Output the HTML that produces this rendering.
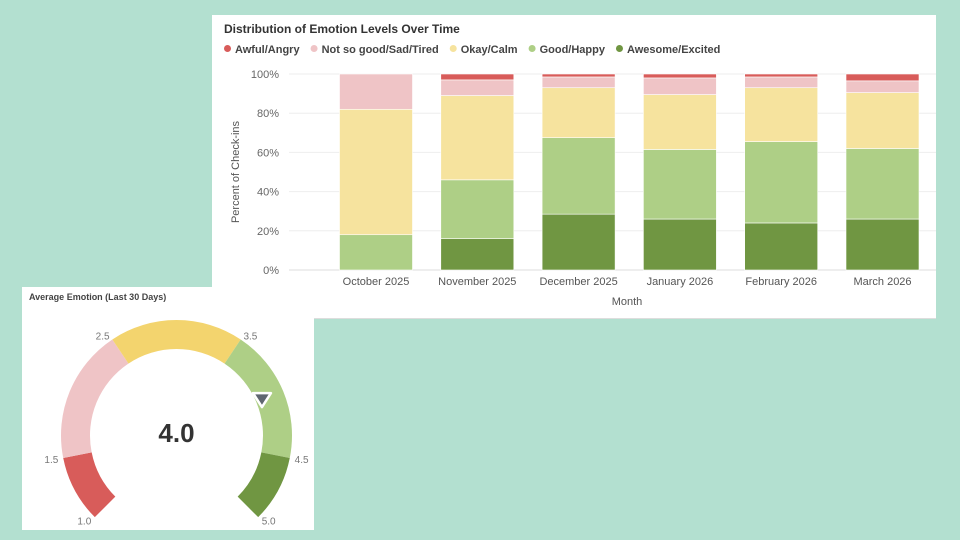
<!DOCTYPE html>
<html><head><meta charset="utf-8"><style>
body{margin:0;width:960px;height:540px;background:#b3e0d0;position:relative;overflow:hidden;font-family:"Liberation Sans",sans-serif}
.card{position:absolute;background:#fff}
</style></head><body>
<div class="card" style="left:212px;top:15px;width:724px;height:303px;border-bottom:1px solid #ddd">
<svg id="bar" width="724" height="303"></svg>
</div>
<div class="card" style="left:22px;top:287px;width:292px;height:243px">
<svg id="gauge" width="292" height="243"></svg>
</div>
<script>
const months=["October 2025","November 2025","December 2025","January 2026","February 2026","March 2026"];
const seriesNames=["Awesome/Excited","Good/Happy","Okay/Calm","Not so good/Sad/Tired","Awful/Angry"];
const awesome=[0,16,28.5,26,24,26];
const good=[18,30,39,35.5,41.5,36];
const okay=[64,43,25.5,28,27.5,28.5];
const notSoGood=[18,8,5.5,8.5,5.5,6];
const awful=[0,3,1.5,2,1.5,3.5];
const yTicks=[0,20,40,60,80,100];
const legendOrder=["Awful/Angry","Not so good/Sad/Tired","Okay/Calm","Good/Happy","Awesome/Excited"];
const gaugeValue=4.0;
const gaugeMin=1,gaugeMax=5;
const gaugeBands=[1,1.5,2.5,3.5,4.5,5];
const gaugeLabels=["1.0","1.5","2.5","3.5","4.5","5.0"];

const NS="http://www.w3.org/2000/svg";
function mk(p,t,a,txt){const e=document.createElementNS(NS,t);for(const k in a)e.setAttribute(k,a[k]);if(txt!=null)e.textContent=txt;p.appendChild(e);return e;}
const colors={"Awful/Angry":"#d85c5a","Not so good/Sad/Tired":"#efc4c6","Okay/Calm":"#f6e39e","Good/Happy":"#aecf86","Awesome/Excited":"#709642"};
const svg=document.getElementById('bar');
let t=mk(svg,'text',{x:12,y:18,'font-size':12,'font-weight':'bold',fill:'#333'},"Distribution of Emotion Levels Over Time");


let lx=12;
legendOrder.forEach(n=>{
  const g=mk(svg,'g',{});
  
  
  mk(g,'circle',{cx:lx+3.5,cy:33.5,r:3.5,fill:colors[n]});
  const tx=mk(g,'text',{x:lx+11,y:38,'font-size':11,'font-weight':'bold',fill:'#444'},n);
  lx+=11+tx.getComputedTextLength()+11;
});
const y0=255,y1=59,xL=77,xR=724;
const ys=v=>y0-(v/100)*(y0-y1);
const xc=i=>164+i*101.3;
const bw=73;
yTicks.forEach(v=>{
  const l=mk(svg,'line',{x1:xL,x2:xR,y1:ys(v),y2:ys(v),stroke:v==0?'#ddd':'#eee'});
  
  
  const tt=mk(svg,'text',{x:67,y:ys(v)+4,'font-size':11,fill:'#666','text-anchor':'end'},v+"%");
  
  
});
const data=[awesome,good,okay,notSoGood,awful];
months.forEach((m,i)=>{
  let acc=0;
  data.forEach((arr,s)=>{
    const v=arr[i]; if(v<=0)return;
    const r=mk(svg,'rect',{x:xc(i)-bw/2,y:ys(acc+v),width:bw,height:ys(acc)-ys(acc+v),fill:colors[seriesNames[s]],stroke:'#fff','stroke-width':0.6});
    
    
    acc+=v;
  });
  const lt=mk(svg,'text',{x:xc(i),y:270,'font-size':11,fill:'#555','text-anchor':'middle'},m);
  
  
});
t=mk(svg,'text',{x:415,y:290,'font-size':11,fill:'#555','text-anchor':'middle'},"Month");


t=mk(svg,'text',{x:0,y:0,'font-size':11,fill:'#555','text-anchor':'middle',transform:'translate(27,157) rotate(-90)'},"Percent of Check-ins");



// gauge
const gs=document.getElementById('gauge');
t=mk(gs,'text',{x:7,y:13,'font-size':9,'font-weight':'bold',fill:'#444'},"Average Emotion (Last 30 Days)");


const cx=154.5,cy=148.5,R=115.5,r=86.5;
const ang=v=>(-135+(v-gaugeMin)/(gaugeMax-gaugeMin)*270)*Math.PI/180;
const pt=(a,rad)=>[cx+rad*Math.sin(a),cy-rad*Math.cos(a)];
const bandColors=["#d85c5a","#efc4c6","#f3d46e","#aecf86","#709642"];
for(let i=0;i<gaugeBands.length-1;i++){
  const a0=ang(gaugeBands[i]),a1=ang(gaugeBands[i+1]);
  const p0=pt(a0,R),p1=pt(a1,R),p2=pt(a1,r),p3=pt(a0,r);
  const lg=(a1-a0)>Math.PI?1:0;
  const p=mk(gs,'path',{d:`M${p0}A${R},${R} 0 ${lg} 1 ${p1}L${p2}A${r},${r} 0 ${lg} 0 ${p3}Z`,fill:bandColors[i]});
  
  
}
gaugeBands.forEach((v,i)=>{
  const a=ang(v);const [x,y]=pt(a,R+5);
  const anchor=Math.sin(a)<-0.1?'end':(Math.sin(a)>0.1?'start':'middle');
  const tt=mk(gs,'text',{x:x,y:y+4,'font-size':10,fill:'#777','text-anchor':anchor},gaugeLabels[i]);
  
  
});
const am=ang(gaugeValue);const [mx,my]=pt(am,r+6);
const tri=mk(gs,'path',{d:`M${mx-9},${my-7}L${mx+9},${my-7}L${mx},${my+7}Z`,fill:'#5f6670',stroke:'#fff','stroke-width':2.5,'stroke-linejoin':'round'});


t=mk(gs,'text',{x:cx,y:155,'font-size':26,'font-weight':'bold',fill:'#333','text-anchor':'middle'},gaugeValue.toFixed(1));


</script>
</body></html>
